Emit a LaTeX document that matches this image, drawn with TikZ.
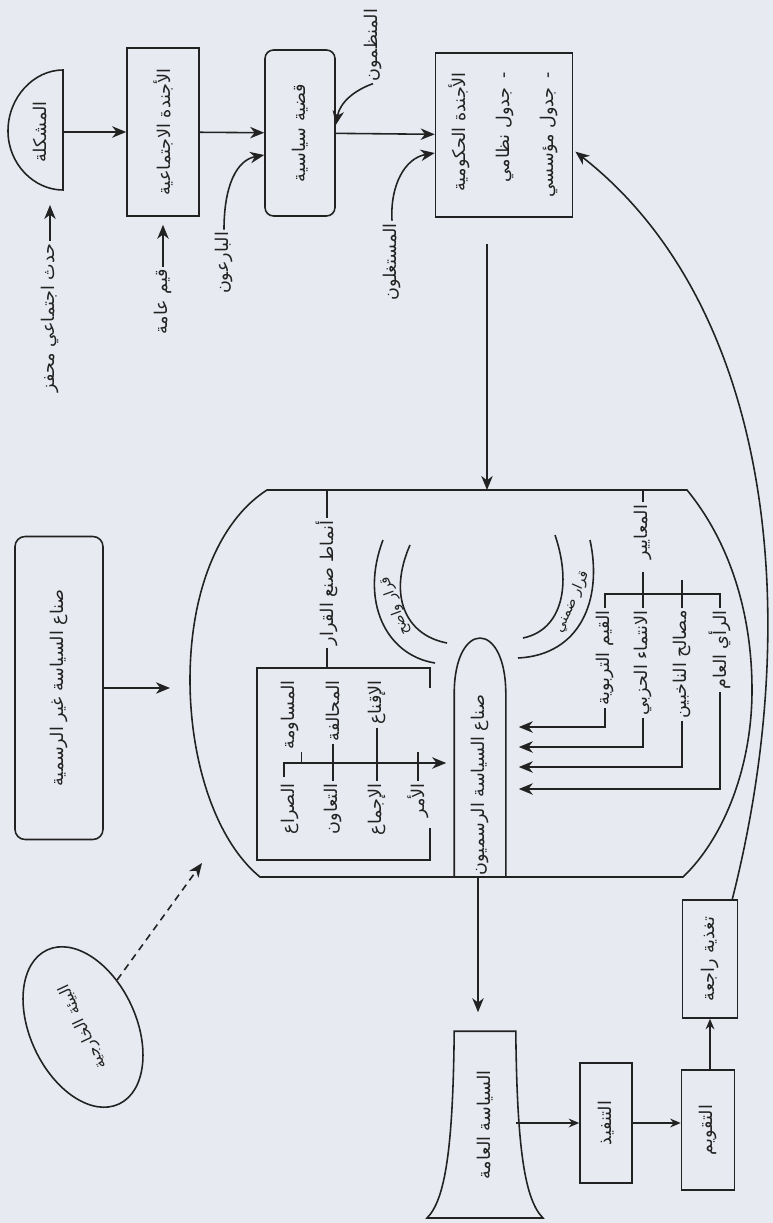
\documentclass[tikz,border=0pt]{standalone}
\usepackage{fontspec}
\newfontfamily\arabicfont[Script=Arabic]{DejaVu Sans}
\TeXXeTstate=1
\usetikzlibrary{arrows.meta,shapes.geometric,calc}
\definecolor{paper}{HTML}{E7EAF0}
\definecolor{ink}{HTML}{222222}
\newcommand{\artxt}[1]{{\arabicfont\beginR #1\endR}}
\newcommand{\vtxt}[1]{\rotatebox{90}{\artxt{#1}}}
\begin{document}
\begin{tikzpicture}[x=0.02cm, y=-0.02cm, line width=0.9pt, color=ink,
  every node/.style={font=\fontsize{10}{12}\selectfont, text=ink, inner sep=1pt},
  arr/.style={-{Stealth[length=8pt, width=6.5pt, inset=2.5pt]}},
  sarr/.style={-{Stealth[length=6pt, width=5pt, inset=2pt]}},
  blk/.style={draw, inner sep=0pt},
  small/.style={font=\fontsize{8}{9}\selectfont}]
\fill[paper] (0,0) rectangle (773,1223);
\useasboundingbox (0,0) rectangle (773,1223);

% top row
\coordinate (probc) at (63,132);
\node (prob) at (40,132) {\vtxt{المشكلة}};
\draw (63,70) .. controls (34,70) and (8,97) .. (8,131) .. controls (8,164) and (34,190) .. (63,190) -- cycle;
\node (trig) at (50,318) {\vtxt{حدث اجتماعي محفز}};
\node[blk, minimum width=1.44cm, minimum height=3.36cm] (socag) at (163,132) {\vtxt{الأجندة الاجتماعية}};
\node (vals) at (163,302) {\vtxt{قيم عامة}};
\node[blk, rounded corners=0.17cm, minimum width=1.4cm, minimum height=3.32cm] (issue) at (300,133) {\vtxt{قضية سياسية}};
\node (entr) at (224,263) {\vtxt{البارعون}};
\node (orgs) at (373,45) {\vtxt{المنظمون}};
\node (expl) at (392,262) {\vtxt{المستغلون}};
\node[blk, minimum width=2.74cm, minimum height=3.28cm] (gov) at (504,135) {\rotatebox{90}{\begin{tabular}{@{}r@{}}\artxt{الأجندة الحكومية}\\[13pt]\artxt{-\enspace جدول نظامي}\\[13pt]\artxt{-\enspace جدول مؤسسي}\end{tabular}}};
\draw[arr] (probc) -- (socag);
\draw[arr] (socag) -- (issue);
\draw[arr] (issue) -- (gov);
\draw[arr, shorten >=0.3cm] (trig.north) -- (trig.north |- 0,190);
\draw[arr, shorten >=0.16cm] (vals.north) -- (socag.south);
\draw[arr] (entr.north) .. controls (224,185) and (237,160) .. (issue.west |- 0,155);
\draw[arr] (orgs.south) .. controls (355,90) and (340,102) .. (issue.east |- 0,125);
\draw[arr] (expl.north) .. controls (390,185) and (405,158) .. (gov.west |- 0,153);

% decision making
\coordinate (dtop) at (487,490);
\coordinate (dbot) at (478,877);
\coordinate (dleft) at (190,688);
\coordinate (dcorner) at (202,863);
\draw (267,490) -- (687,490) .. controls (728,540) and (752,610) .. (752,690) .. controls (752,770) and (722,840) .. (683,877) -- (260,877) .. controls (215,840) and (190,760) .. (190,680) .. controls (190,590) and (220,520) .. (267,490) -- cycle;
\draw[arr, shorten <=0.52cm] (gov.south -| dtop) -- (dtop);

\draw (430,688) -- (430,668) -- (257,668) -- (257,860) -- (430,860) -- (430,828);
\node (styles) at (327,583) {\vtxt{أنماط صنع القرار}};
\draw (styles.north |- dtop) -- (styles.north);
\draw (styles.south) -- (styles.south |- 0,668);
\node[anchor=north] (barg) at (290,678) {\vtxt{المساومة}};
\node[anchor=north] (alli) at (333,678) {\vtxt{المحالفة}};
\node[anchor=north] (pers) at (377,678) {\vtxt{الإقناع}};
\node[anchor=north] (conf) at (290,781) {\vtxt{الصراع}};
\node[anchor=north] (coop) at (333,781) {\vtxt{التعاون}};
\node[anchor=north] (cons) at (377,781) {\vtxt{الإجماع}};
\node[anchor=north] (cmnd) at (418,781) {\vtxt{الأمر}};
\node[minimum width=1cm, minimum height=3.68cm] (offic) at (480,785) {\vtxt{صناع السياسة الرسميون}};
\draw (offic.south west) -- (offic.north west) .. controls (455,620) and (505,620) .. (offic.north east) -- (offic.south east);
\draw[arr, shorten >=0.16cm] (284,777) -- (284,763) -- (offic.west |- 0,763);
\draw (barg.south east) -- (barg.south east |- 0,763);
\draw (alli.south) -- (coop.north);
\draw (pers.south) -- (cons.north);
\draw (cmnd.north) -- (cmnd.north |- 0,752);

\draw (383,540) .. controls (360,600) and (385,655) .. (435,663);
\draw (410,545) .. controls (388,595) and (405,635) .. (447,643);
\node[small, rotate=110, inner sep=0pt] (expd) at (395,606) {\artxt{قرار واضح}};
\draw (555,535) .. controls (572,585) and (562,630) .. (523,638);
\draw (590,540) .. controls (603,600) and (580,655) .. (518,658);
\node[small, rotate=66, inner sep=0pt] (impd) at (572,602) {\artxt{قرار ضمني}};

\node (crit) at (643,532) {\vtxt{المعايير}};
\draw (crit.north |- dtop) -- (crit.north);
\node[anchor=north] (valu) at (605,608) {\vtxt{القيم التربوية}};
\node[anchor=north] (party) at (643,608) {\vtxt{الانتماء الحزبي}};
\node[anchor=north] (intr) at (682,608) {\vtxt{مصالح الناخبين}};
\node[anchor=north] (opin) at (720,608) {\vtxt{الرأي العام}};
\draw (valu.north) -- (valu.north |- 0,594) -- (opin.north |- 0,594) -- (opin.north);
\draw[shorten <=0.2cm] (crit.south) -- (party.north);
\draw (intr.north) -- (intr.north |- 0,580);
\draw[arr, shorten >=0.26cm] (valu.south) -- (valu.south |- 0,727) -- (offic.east |- 0,727);
\draw[arr, shorten >=0.26cm] (party.south) -- (party.south |- 0,747) -- (offic.east |- 0,747);
\draw[arr, shorten >=0.26cm] (intr.south) -- (intr.south |- 0,767) -- (offic.east |- 0,767);
\draw[arr, shorten >=0.26cm] (opin.south) -- (opin.south |- 0,789) -- (offic.east |- 0,789);

% left side
\node[blk, rounded corners=0.2cm, minimum width=1.76cm, minimum height=6.06cm] (unoff) at (59,688) {\vtxt{صناع السياسة غير الرسمية}};
\draw[arr, shorten >=0.4cm] (unoff) -- (dleft);
\node[ellipse, draw, rotate=115, minimum width=3.4cm, minimum height=2.12cm, inner sep=0pt, font=\fontsize{9}{11}\selectfont] (env) at (83,1027) {\artxt{البيئة الخارجية}};
\draw[arr, dash pattern=on 4pt off 3pt] (env) -- (dcorner);

% bottom row
\node[minimum width=1.2cm, minimum height=3.72cm] (pol) at (485,1125) {\vtxt{السياسة العامة}};
\draw (pol.north west) -- (pol.north east) .. controls (517,1150) and (525,1200) .. (543,1218) -- (427,1218) .. controls (445,1200) and (453,1150) .. (pol.north west) -- cycle;
\node[blk, minimum width=1.04cm, minimum height=2.4cm] (impl) at (606,1123) {\vtxt{التنفيذ}};
\node[blk, minimum width=1.06cm, minimum height=2.4cm] (eval) at (708,1130) {\vtxt{التقويم}};
\node[blk, minimum width=1.1cm, minimum height=2.36cm] (fb) at (710,959) {\vtxt{تغذية راجعة}};
\draw[arr, shorten >=0.38cm] (dbot) -- (dbot |- pol.north);
\draw[sarr] (pol.east |- impl) -- (impl);
\draw[sarr] (impl) -- (impl -| eval.west);
\draw[sarr] (eval.north -| fb) -- (fb);
\draw[arr, shorten >=1.5pt] ([xshift=-0.12cm]fb.north east) .. controls (808,600) and (765,300) .. (gov.east |- 0,150);
\end{tikzpicture}
\end{document}
